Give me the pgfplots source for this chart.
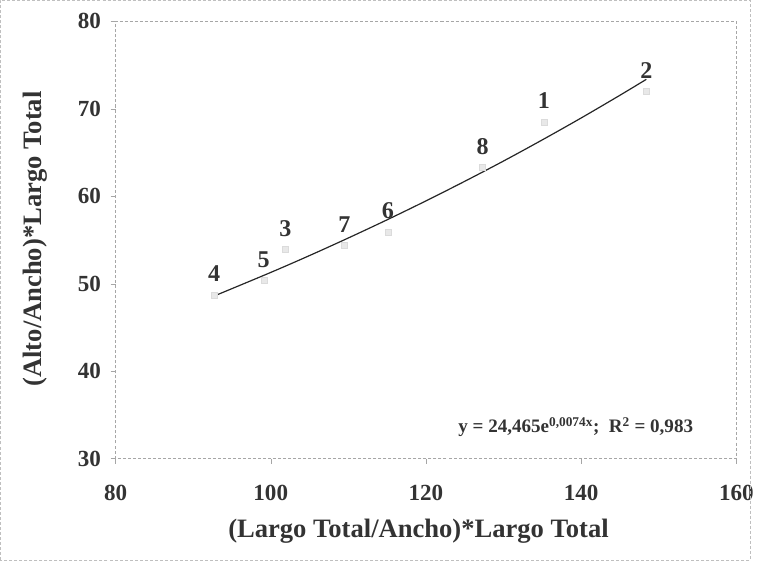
\documentclass[border=0pt]{standalone}
\usepackage{fontspec}
\setmainfont{Liberation Serif}
\usepackage{pgfplots}
\pgfplotsset{compat=1.18}

\begin{document}
\begin{tikzpicture}
	\begin{axis}[
			scale only axis, width=619pt, height=436pt,
			xmin=80, xmax=160, ymin=30, ymax=80,
			xtick={80,100,...,160}, ytick={30,40,...,80},
			xtick pos=bottom, ytick pos=left,
			/pgf/number format/assume math mode=true,
			axis line style={gray!70, densely dashed, line width=0.5pt},
			tick align=outside, major tick length=5pt,
			tick style={gray!70, solid},
			xticklabel style={font=\fontsize{23}{25}\selectfont\bfseries, yshift=-18pt, text=black!80},
			yticklabel style={font=\fontsize{23}{25}\selectfont\bfseries, xshift=-6pt, text=black!80},
			xlabel={(Largo Total/Ancho)*Largo Total},
			ylabel={(Alto/Ancho)*Largo Total},
			label style={font=\fontsize{26.5}{28}\selectfont\bfseries, text=black!80},
			xlabel style={at={(rel axis cs:0.488,0)}, anchor=center, yshift=-72pt},
			ylabel style={at={(rel axis cs:0,0.502)}, anchor=center, yshift=80pt},
			clip=false,
		]
		% puntos medidos
		\addplot[only marks, mark=square*, mark size=3pt,
			mark options={fill=gray!18, draw=gray!28},
			nodes near coords, point meta=explicit symbolic,
			every node near coord/.append style={anchor=base, yshift=13pt,
				font=\fontsize{24}{26}\selectfont\bfseries, text=black!80}]
			table[meta=lbl] {
				x     y     lbl
				135.2 68.5  1
				148.4 72.0  2
				101.9 53.9  3
				92.7  48.7  4
				99.1  50.4  5
				115.1 55.9  6
				109.5 54.4  7
				127.3 63.3  8
			};
		% tendencia exponencial
		\addplot[black!85, line width=1.2pt, smooth] coordinates {
			(92.7,48.58) (100,51.28) (105,53.21) (110,55.22) (115,57.30)
			(120,59.46) (125,61.70) (130,64.02) (135,66.44) (140,68.94)
			(145,71.54) (148.4,73.36)
		};
		\node[font=\fontsize{19}{21}\selectfont\bfseries, text=black!80]
			at (axis cs:139.3,33.6) {y = 24,465e\textsuperscript{0,0074x};\ \ R\textsuperscript{2} = 0,983};
	\end{axis}
	\draw[gray!50, densely dashed, line width=0.4pt]
		([xshift=-115pt, yshift=-101pt]current axis.south west) rectangle
		([xshift=14pt, yshift=21pt]current axis.north east);
\end{tikzpicture}
\end{document}
